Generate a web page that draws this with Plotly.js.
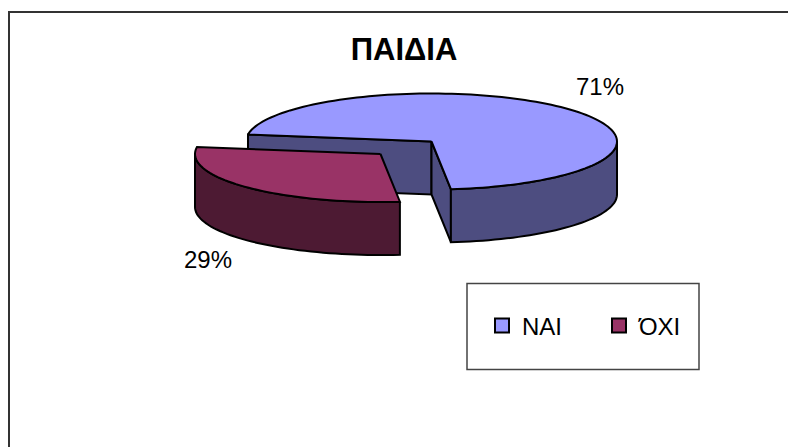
<!DOCTYPE html>
<html><head><meta charset="utf-8">
<script src="https://cdn.plot.ly/plotly-3.0.1.min.js"></script>
<style>html,body{margin:0;padding:0;background:#fff;overflow:hidden}#c{width:788px;height:447px}</style>
</head><body><div id="c"></div>
<script>
const categories = ["ΝΑΙ", "ΌΧΙ"];
const percents = [71, 29];
const labels = ["71%", "29%"];
const chartTitle = "ΠΑΙΔΙΑ";
const topColors = ["#9999FF", "#993366"];
const wallColors = ["#4D4D80", "#4D1A33"];

// view geometry of the tilted pie, in plot units (axes map 1:1 to the page)
const cx = 431.5, cy = 141.5, rx = 185.5, ry = 48, depth = 53;
const explode = [-51, 12.5];
const startDeg = 84;

const total = percents.reduce((a, b) => a + b, 0);
const sweepRed = percents[1] / total * 360;
const redStart = startDeg, redEnd = startDeg + sweepRed;
const blueStart = redEnd, blueEnd = startDeg + 360;

function arc(a0, a1, ox, oy, dz) {
  const xs = [], ys = [], n = Math.max(2, Math.ceil(Math.abs(a1 - a0) / 2));
  for (let i = 0; i <= n; i++) {
    const t = (a0 + (a1 - a0) * i / n) * Math.PI / 180;
    xs.push(cx + ox + rx * Math.cos(t));
    ys.push(cy + oy + dz + ry * Math.sin(t));
  }
  return [xs, ys];
}
function poly(x, y, fill) {
  return {type: "scatter", mode: "lines", x: x.concat(x[0]), y: y.concat(y[0]), fill: "toself",
    fillcolor: fill, line: {color: "#000", width: 2, simplify: false}, showlegend: false, hoverinfo: "skip"};
}
function wallFace(a0, a1, ox, oy, fill) {
  const [tx, ty] = arc(a0, a1, ox, oy, 0);
  const [bx, by] = arc(a1, a0, ox, oy, depth);
  return poly(tx.concat(bx), ty.concat(by), fill);
}
function cutFace(a, ox, oy, fill) {
  const [ex, ey] = arc(a, a, ox, oy, 0);
  const ax = cx + ox, ay = cy + oy;
  return poly([ax, ex[0], ex[0], ax], [ay, ey[0], ey[0] + depth, ay + depth], fill);
}
function topFace(a0, a1, ox, oy, fill) {
  const [tx, ty] = arc(a0, a1, ox, oy, 0);
  return poly([cx + ox].concat(tx), [cy + oy].concat(ty), fill);
}
const traces = [
  cutFace(blueStart, 0, 0, wallColors[0]),
  cutFace(blueEnd, 0, 0, wallColors[0]),
  wallFace(360, blueEnd, 0, 0, wallColors[0]),
  topFace(blueStart, blueEnd, 0, 0, topColors[0]),
  wallFace(redStart, 180, explode[0], explode[1], wallColors[1]),
  topFace(redStart, redEnd, explode[0], explode[1], topColors[1])
];
categories.forEach((c, i) => traces.push({
  type: "scatter", mode: "markers", name: c, x: [null], y: [null],
  marker: {symbol: "square", size: 14, color: topColors[i], line: {color: "#000", width: 2}}
}));

const fontFamily = "'Liberation Sans', Arial, sans-serif";
const layout = {
  width: 788, height: 447, margin: {l: 0, r: 0, t: 0, b: 0},
  paper_bgcolor: "#fff", plot_bgcolor: "#fff",
  title: {text: "<b>" + chartTitle + "</b>", font: {family: fontFamily, size: 31, color: "#000"},
          x: 404 / 788, xanchor: "center", y: 1 - 49 / 447, yanchor: "middle"},
  xaxis: {range: [0, 788], visible: false, fixedrange: true},
  yaxis: {range: [447, 0], visible: false, fixedrange: true},
  showlegend: true,
  legend: {orientation: "h", x: 482 / 788, y: 1 - 326 / 447, xanchor: "left", yanchor: "middle",
    font: {family: fontFamily, size: 24, color: "#000"}, entrywidth: 72, entrywidthmode: "pixels",
    bgcolor: "rgba(0,0,0,0)", borderwidth: 0, itemclick: false, itemdoubleclick: false},
  shapes: [
    {type: "rect", xref: "x", yref: "y", x0: 467, x1: 699, y0: 283.5, y1: 369.5, line: {color: "#444", width: 1.5}, fillcolor: "#fff", layer: "below"},
    {type: "line", xref: "x", yref: "y", x0: 9, x1: 788, y0: 12, y1: 12, line: {color: "#333", width: 2}},
    {type: "line", xref: "x", yref: "y", x0: 9, x1: 9, y0: 11, y1: 447, line: {color: "#333", width: 2}}
  ],
  annotations: [
    {xref: "x", yref: "y", x: 600, y: 86, text: labels[0], showarrow: false, font: {family: fontFamily, size: 24, color: "#000"}},
    {xref: "x", yref: "y", x: 208, y: 259, text: labels[1], showarrow: false, font: {family: fontFamily, size: 24, color: "#000"}}
  ]
};
Plotly.newPlot("c", traces, layout, {displayModeBar: false, staticPlot: true});
</script></body></html>
